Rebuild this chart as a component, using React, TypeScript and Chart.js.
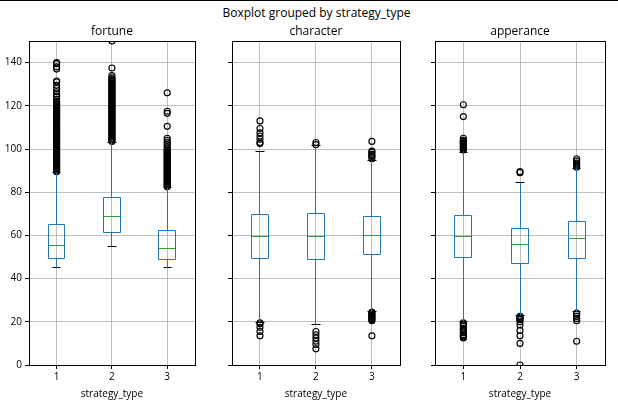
import React, { useEffect, useRef } from "react";
import { Chart, registerables } from "chart.js";

Chart.register(...registerables);

// ---------------- data ----------------
const CATEGORIES = [1, 2, 3];
const Y_TICKS = [0, 20, 40, 60, 80, 100, 120, 140];
const Y_MIN = 0;
const Y_MAX = 150;
const X_LABEL = "strategy_type";
const SUPTITLE = "Boxplot grouped by strategy_type";
const PANEL_TITLES = ["fortune", "character", "apperance"];

// fortune
const FORTUNE_Q1 = [49.2, 61.2, 48.9];
const FORTUNE_MEDIAN = [55.2, 68.6, 53.8];
const FORTUNE_Q3 = [65.2, 77.7, 62.3];
const FORTUNE_WHISKER_LOW = [45, 55, 45];
const FORTUNE_WHISKER_HIGH = [89, 103, 82];
const FORTUNE_FLIERS_1 = [
  89.5, 90, 90.5, 91, 91.5, 92, 92.5, 93, 93.5, 94, 94.5, 95, 95.5, 96, 96.5, 97, 97.5, 98,
  98.5, 99, 99.5, 100, 100.5, 101, 101.5, 102, 102.5, 103, 103.5, 104, 104.5, 105, 105.5, 106,
  106.5, 107, 107.5, 108, 108.5, 109, 109.5, 110, 110.5, 111, 111.5, 112, 112.5, 113, 113.5,
  114, 114.5, 115, 115.5, 116, 116.5, 117, 117.5, 118, 118.5, 119, 119.5, 120, 120.5, 121,
  121.5, 122, 123, 124.5, 125.5, 126.5, 128, 129.5, 131, 131.5, 137, 138, 139.5, 140,
];
const FORTUNE_FLIERS_2 = [
  103.5, 104, 104.5, 105, 105.5, 106, 106.5, 107, 107.5, 108, 108.5, 109, 109.5, 110, 110.5,
  111, 111.5, 112, 112.5, 113, 113.5, 114, 114.5, 115, 115.5, 116, 116.5, 117, 117.5, 118,
  118.5, 119, 119.5, 120, 120.5, 121, 121.5, 122, 122.5, 123, 123.5, 124, 124.5, 125, 125.5,
  126, 126.5, 127, 127.5, 128, 128.5, 129, 129.5, 130, 130.5, 131, 131.5, 132, 132.5, 133,
  134, 137.5, 150,
];
const FORTUNE_FLIERS_3 = [
  82.5, 83, 83.5, 84, 84.5, 85, 85.5, 86, 86.5, 87, 87.5, 88, 88.5, 89, 89.5, 90, 90.5, 91,
  91.5, 92, 92.5, 93, 93.5, 94, 94.5, 95, 95.5, 96, 96.5, 97, 97.5, 98, 98.5, 99, 99.5, 100,
  101, 102, 103, 104, 105, 110.5, 116.5, 117.5, 126,
];

// character
const CHARACTER_Q1 = [49.2, 48.8, 51.1];
const CHARACTER_MEDIAN = [59.5, 59.5, 59.9];
const CHARACTER_Q3 = [69.5, 70.0, 68.9];
const CHARACTER_WHISKER_LOW = [19.7, 18.8, 25];
const CHARACTER_WHISKER_HIGH = [98.8, 101.4, 94.5];
const CHARACTER_FLIERS_1 = [13.5, 15.5, 17.5, 19, 19.5, 102.5, 103, 104.5, 106, 107.5, 109.5, 113];
const CHARACTER_FLIERS_2 = [7.5, 9.5, 11, 12.5, 14, 15.5, 102, 103];
const CHARACTER_FLIERS_3 = [
  13.5, 20.5, 21, 21.5, 22, 22.5, 23, 23.5, 24, 24.5, 95.5, 96.5, 97, 97.5, 98.5, 99, 103.5,
];

// apperance
const APPERANCE_Q1 = [49.7, 46.9, 49.2];
const APPERANCE_MEDIAN = [59.4, 55.7, 58.6];
const APPERANCE_Q3 = [69.1, 63.1, 66.3];
const APPERANCE_WHISKER_LOW = [20, 23, 24.6];
const APPERANCE_WHISKER_HIGH = [98.6, 84.3, 90.8];
const APPERANCE_FLIERS_1 = [
  12.5, 13, 13.5, 14, 15, 16, 16.5, 17, 18, 18.5, 19, 19.5, 99.5, 100, 100.5, 101, 101.5, 102,
  102.5, 103, 103.5, 104, 105, 115, 120.5,
];
const APPERANCE_FLIERS_2 = [0, 10, 13.5, 16, 18.5, 20, 21, 21.5, 22, 22.5, 89, 89.5];
const APPERANCE_FLIERS_3 = [11, 20.5, 21.5, 22.5, 23.5, 24, 91.5, 92.5, 93, 93.5, 94.5, 95.5];

// ---------------- styles ----------------
const FONT = "'Open Sans', 'Noto Sans', sans-serif";
const BOX_COLOR = "#1f77b4";
const MEDIAN_COLOR = "#2ca02c";
const GRID_COLOR = "#b0b0b0";
const BOX_WIDTH = 0.3;
const CAP_WIDTH = 0.15;

type Stats = {
  q1: number[];
  median: number[];
  q3: number[];
  lo: number[];
  hi: number[];
  fliers: number[][];
};

const PANEL_STATS: Stats[] = [
  {
    q1: FORTUNE_Q1, median: FORTUNE_MEDIAN, q3: FORTUNE_Q3,
    lo: FORTUNE_WHISKER_LOW, hi: FORTUNE_WHISKER_HIGH,
    fliers: [FORTUNE_FLIERS_1, FORTUNE_FLIERS_2, FORTUNE_FLIERS_3],
  },
  {
    q1: CHARACTER_Q1, median: CHARACTER_MEDIAN, q3: CHARACTER_Q3,
    lo: CHARACTER_WHISKER_LOW, hi: CHARACTER_WHISKER_HIGH,
    fliers: [CHARACTER_FLIERS_1, CHARACTER_FLIERS_2, CHARACTER_FLIERS_3],
  },
  {
    q1: APPERANCE_Q1, median: APPERANCE_MEDIAN, q3: APPERANCE_Q3,
    lo: APPERANCE_WHISKER_LOW, hi: APPERANCE_WHISKER_HIGH,
    fliers: [APPERANCE_FLIERS_1, APPERANCE_FLIERS_2, APPERANCE_FLIERS_3],
  },
];

// layout of each panel canvas (page pixels)
const PANEL_LAYOUT = [
  { left: 0, width: 200, yAxisWidth: 29, padRight: 2, showYLabels: true },
  { left: 210, width: 195, yAxisWidth: 22, padRight: 2, showYLabels: false },
  { left: 413, width: 205, yAxisWidth: 22, padRight: 13, showYLabels: false },
];
const CANVAS_HEIGHT = 407;

type Pt = { x: number; y: number | null };

// every vertical stroke is listed bottom-to-top so no path retraces itself
function buildDatasets(s: Stats) {
  const box: Pt[] = [];
  const whisk: Pt[] = [];
  const caps: Pt[] = [];
  const med: Pt[] = [];
  const fl: Pt[] = [];
  CATEGORIES.forEach((c, i) => {
    const h = BOX_WIDTH / 2;
    const ch = CAP_WIDTH / 2;
    box.push(
      { x: c - h, y: s.q1[i] }, { x: c - h, y: s.q3[i] }, { x: c + h, y: s.q3[i] }, { x: c, y: null },
      { x: c - h, y: s.q1[i] }, { x: c + h, y: s.q1[i] }, { x: c + h, y: s.q3[i] }, { x: c, y: null }
    );
    whisk.push(
      { x: c, y: s.lo[i] }, { x: c, y: s.q1[i] }, { x: c, y: null },
      { x: c, y: s.q3[i] }, { x: c, y: s.hi[i] }, { x: c, y: null }
    );
    caps.push(
      { x: c - ch, y: s.lo[i] }, { x: c + ch, y: s.lo[i] }, { x: c, y: null },
      { x: c - ch, y: s.hi[i] }, { x: c + ch, y: s.hi[i] }, { x: c, y: null }
    );
    med.push({ x: c - h, y: s.median[i] }, { x: c + h, y: s.median[i] }, { x: c, y: null });
    s.fliers[i].forEach((v) => fl.push({ x: c, y: v }));
  });
  const lineDs = (data: Pt[], color: string) => ({
    type: "scatter" as const,
    data,
    showLine: true,
    spanGaps: false,
    borderColor: color,
    borderWidth: 1,
    pointRadius: 0,
    fill: false,
    tension: 0,
  });
  return [
    lineDs(box, BOX_COLOR),
    lineDs(med, MEDIAN_COLOR),
    lineDs(whisk, BOX_COLOR),
    lineDs(caps, "#000000"),
    {
      type: "scatter" as const,
      data: fl,
      showLine: false,
      pointStyle: "circle",
      pointRadius: 3,
      pointBorderWidth: 1.15,
      pointBorderColor: "#000000",
      pointBackgroundColor: "rgba(0,0,0,0)",
      clip: 0,
    },
  ];
}

// snap line vertices to pixel centres (like matplotlib's line snapping)
const snapPlugin = {
  id: "snap",
  beforeDatasetsDraw(chart: any) {
    chart.data.datasets.forEach((ds: any, di: number) => {
      if (!ds.showLine) return;
      const meta = chart.getDatasetMeta(di);
      meta.data.forEach((p: any) => {
        if (p && Number.isFinite(p.x) && Number.isFinite(p.y)) {
          p.x = Math.floor(p.x) + 0.5;
          p.y = Math.floor(p.y) + 0.5;
        }
      });
      if (meta.dataset) delete meta.dataset._path;
    });
  },
};

const framePlugin = {
  id: "frame",
  afterDraw(chart: any) {
    const { ctx, chartArea: a } = chart;
    ctx.save();
    ctx.strokeStyle = "#000";
    ctx.lineWidth = 1;
    ctx.strokeRect(Math.round(a.left) + 0.5, Math.round(a.top) + 0.5, Math.round(a.right - a.left), Math.round(a.bottom - a.top));
    ctx.restore();
  },
};

function Panel({ idx }: { idx: number }) {
  const ref = useRef<HTMLCanvasElement>(null);
  const lay = PANEL_LAYOUT[idx];
  useEffect(() => {
    if (!ref.current) return;
    const chart = new Chart(ref.current, {
      type: "scatter",
      data: { datasets: buildDatasets(PANEL_STATS[idx]) as any },
      plugins: [snapPlugin, framePlugin],
      options: {
        animation: false,
        responsive: false,
        events: [],
        layout: { padding: { top: 0, right: lay.padRight, bottom: 0, left: 0 } },
        plugins: {
          legend: { display: false },
          tooltip: { enabled: false },
          title: {
            display: true,
            text: PANEL_TITLES[idx],
            fullSize: false,
            color: "#000",
            font: { family: FONT, size: 12, weight: "normal" },
            padding: { top: 24, bottom: 2.6 },
          },
        },
        scales: {
          x: {
            type: "linear",
            min: 0.5,
            max: 3.5,
            bounds: "data",
            offset: false,
            afterBuildTicks: (s: any) => {
              s.ticks = CATEGORIES.map((v) => ({ value: v }));
            },
            afterFit: (s: any) => {
              s.height = CANVAS_HEIGHT - 365;
            },
            ticks: {
              color: "#000",
              font: { family: FONT, size: 10 },
              padding: 2,
              maxRotation: 0,
              callback: (v: any) => String(v),
            },
            grid: {
              color: GRID_COLOR,
              lineWidth: 0.8,
              drawTicks: true,
              tickLength: 4,
              tickColor: "#000",
              tickWidth: 1,
              offset: false,
            },
            border: { display: true, color: "#000", width: 1 },
            title: {
              display: true,
              text: X_LABEL,
              color: "#000",
              font: { family: FONT, size: 10 },
              padding: { top: 0, bottom: 7 },
            },
          },
          y: {
            type: "linear",
            min: Y_MIN,
            max: Y_MAX,
            bounds: "data",
            afterBuildTicks: (s: any) => {
              s.ticks = Y_TICKS.map((v) => ({ value: v }));
            },
            afterFit: (s: any) => {
              s.width = lay.yAxisWidth;
            },
            ticks: {
              display: lay.showYLabels,
              color: "#000",
              font: { family: FONT, size: 10 },
              padding: 3,
            },
            grid: {
              color: GRID_COLOR,
              lineWidth: 0.8,
              drawTicks: true,
              tickLength: 4,
              tickColor: "#000",
              tickWidth: 1,
            },
            border: { display: true, color: "#000", width: 1 },
          },
        },
      } as any,
    });
    return () => chart.destroy();
  }, [idx]);
  return (
    <canvas
      ref={ref}
      width={lay.width}
      height={CANVAS_HEIGHT}
      style={{ position: "absolute", left: lay.left, top: 0, width: lay.width, height: CANVAS_HEIGHT }}
    />
  );
}

export default function App() {
  return (
    <div style={{ position: "absolute", left: 0, top: 0, width: 618, height: 407, background: "#fff", overflow: "hidden" }}>
      <div style={{ position: "absolute", left: 0, top: 0, width: 618, height: 1, background: "#000" }} />
      <div
        style={{
          position: "absolute",
          left: 316.5 - 150,
          top: 4,
          width: 300,
          textAlign: "center",
          fontFamily: FONT,
          fontSize: 12,
          lineHeight: "18px",
          color: "#000",
        }}
      >
        {SUPTITLE}
      </div>
      {CATEGORIES.map((_, i) => (
        <Panel key={i} idx={i} />
      ))}
    </div>
  );
}
